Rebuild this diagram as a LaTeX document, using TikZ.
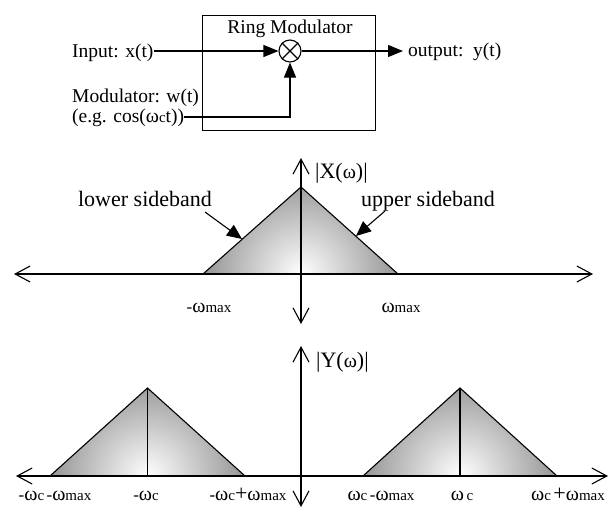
\documentclass[tikz,border=0pt]{standalone}
\usepackage{fontspec}
\setmainfont{Liberation Serif}
\usetikzlibrary{arrows.meta}
\newcommand{\om}{{\fontsize{20}{20}\selectfont ω}}
\newcommand{\sm}[1]{{\fontsize{15}{15}\selectfont #1}}
\newcommand{\hy}{{\fontsize{17}{17}\selectfont -}}
\newcommand{\pl}{{\fontsize{22}{22}\selectfont +}}
\begin{document}
\begin{tikzpicture}[x=1pt,y=-1pt,
  blk/.style={font=\fontsize{19.5}{22}\selectfont, inner sep=0pt},
  big/.style={font=\fontsize{22}{24}\selectfont, inner sep=0pt},
  tk/.style={inner sep=0pt, anchor=base},
  axis/.style={line width=1.1pt, {Straight Barb[length=15pt,width=16pt]}-{Straight Barb[length=15pt,width=16pt]}},
  sig/.style={line width=1.1pt, -{Triangle[length=15pt,width=12pt]}},
  pnt/.style={line width=1.1pt, -{Triangle[length=15pt,width=13pt]}},
  edge/.style={line width=1.1pt, line join=miter},
  shd/.style={inner color=white, outer color=black!62},
  ]
\useasboundingbox (0,0) rectangle (613,509);

% ---------------- block diagram ----------------
\node[draw, line width=1.4pt, minimum width=173pt, minimum height=115pt, anchor=north west, inner sep=0pt] (box) at (202,15) {};
\node[blk, anchor=base] (title) at (290,33) {Ring Modulator};
\node[draw, circle, line width=1.1pt, minimum size=22pt, inner sep=0pt] (mul) at (290,51) {};
\draw[line width=1.1pt] (mul.north west) -- (mul.south east) (mul.north east) -- (mul.south west);

\node[blk, anchor=base west] (in) at (72,57) {Input: x(t)};
\draw[sig] (in.east |- mul) -- (mul.west);

\node[blk, anchor=base west] (mod) at (72,102) {Modulator: w(t)};
\node[blk, anchor=base west] (eg) at (72,122) {(e.g. cos(\om\sm{c}t))};
\coordinate (mc) at (290,117);
\draw[sig] (eg.east |- mc) -- (mc) -- (mul.south);

\node[blk, anchor=base west] (out) at (408,56) {output:\ \ y(t)};
\coordinate (otip) at (403,51);
\draw[sig] (mul.east) -- (otip);

% ---------------- spectrum |X(w)| ----------------
\coordinate (xa) at (203,274);
\coordinate (xp) at (301,187);
\coordinate (xc) at (398,274);
\begin{scope}
  \clip (xa) -- (xp) -- (xc) -- cycle;
  \shade[shd] (301,274) circle (145);
\end{scope}
\coordinate (xl) at (14,274);
\coordinate (xr) at (593,274);
\coordinate (xt) at (301,158);
\coordinate (xb) at (301,324);
\draw[axis] (xl) -- (xr);
\draw[axis] (xb) -- (xt);
\draw[edge] (xa) -- (xp) -- (xc);

\node[big, anchor=base west] (Xlab) at (315,178) {|X(\om)|};
\node[big, anchor=base] (lsb) at (145,206) {lower sideband};
\node[big, anchor=base] (usb) at (428,206) {upper sideband};
\coordinate (ls0) at (205,212);
\coordinate (ls1) at (242,239);
\coordinate (us0) at (385,211);
\coordinate (us1) at (356,236);
\draw[pnt] (ls0) -- (ls1);
\draw[pnt] (us0) -- (us1);

\node[tk] (m1) at (209,312) {\hy\om\sm{max}};
\node[tk] (m2) at (401,312) {\om\sm{max}};

% ---------------- spectrum |Y(w)| ----------------
\coordinate (la) at (50,476);
\coordinate (lp) at (147.5,388);
\coordinate (lc) at (245,476);
\coordinate (lm) at (147.5,476);
\coordinate (ra) at (363,476);
\coordinate (rp) at (460,388);
\coordinate (rc) at (557,476);
\coordinate (rm) at (460,476);
\begin{scope}
  \clip (la) -- (lp) -- (lc) -- cycle;
  \shade[shd] (lm) circle (145);
\end{scope}
\begin{scope}
  \clip (ra) -- (rp) -- (rc) -- cycle;
  \shade[shd] (rm) circle (145);
\end{scope}
\coordinate (yl) at (16,476);
\coordinate (yr) at (608,476);
\coordinate (yt) at (301,346);
\coordinate (yb) at (301,507);
\draw[axis] (yl) -- (yr);
\draw[axis] (yb) -- (yt);
\draw[edge] (la) -- (lp) -- (lc);
\draw[edge] (lp) -- (lm);
\draw[edge] (ra) -- (rp) -- (rc);
\draw[edge] (rp) -- (rm);

\node[big, anchor=base west] (Ylab) at (316,367) {|Y(\om)|};

\node[tk] (b1) at (55,500) {\hy\om\sm{c}\ \hy\om\sm{max}};
\node[tk] (b2) at (146,500) {\hy\om\sm{c}};
\node[tk] (b3) at (248,500) {\hy\om\sm{c}\pl\om\sm{max}};
\node[tk] (b4) at (381,500) {\om\sm{c}\ \hy\om\sm{max}};
\node[tk] (b5) at (462,500) {\om\ \sm{c}};
\node[tk] (b6) at (568,500) {\om\sm{c}\ \pl\om\sm{max}};
\end{tikzpicture}
\end{document}
